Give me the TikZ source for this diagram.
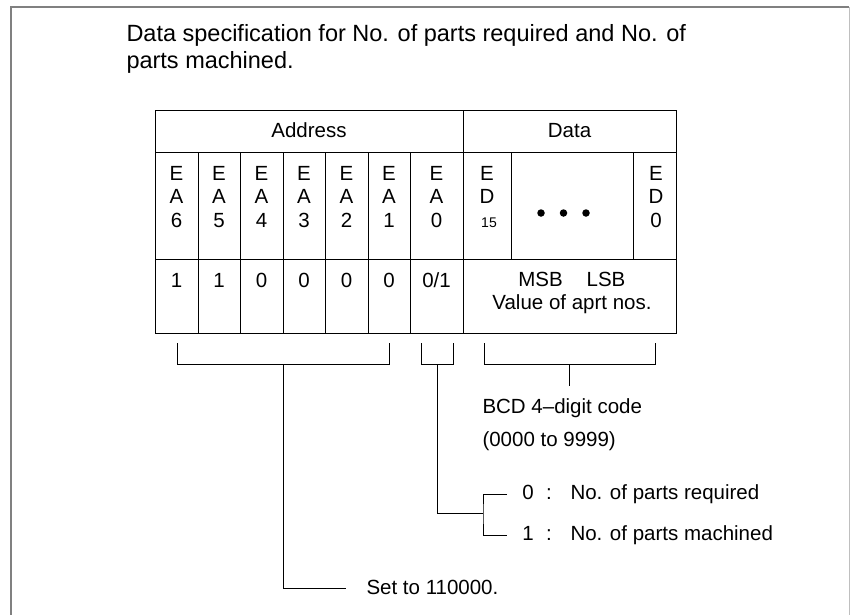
\documentclass[tikz,border=0pt]{standalone}
\usepackage{fontspec}
\setmainfont{Liberation Sans}
\begin{document}
\begin{tikzpicture}[x=1pt,y=-1pt,line width=1pt,
  txt/.style={inner sep=0pt,anchor=base,font=\fontsize{20.5}{24}\selectfont},
  ltxt/.style={inner sep=0pt,anchor=base west,font=\fontsize{20.5}{24}\selectfont},
  ttl/.style={inner sep=0pt,anchor=base west,font=\fontsize{23.5}{27}\selectfont},
  small/.style={inner sep=0pt,anchor=base,font=\fontsize{14}{16}\selectfont},
  tbl/.style={line width=1pt},
  conn/.style={line width=1pt},
  dot/.style={circle,fill,inner sep=0pt,minimum size=7.5pt}]
\useasboundingbox (0,0) rectangle (850,614);
% outer frame
\draw[line width=1.6pt,black!50] (11,630) -- (11,7) -- (849,7);
\draw[line width=0.8pt,black!25] (849,7) -- (849,630);
% title
\node[ttl] (t1) at (126,41.7) {Data specification for No. of parts required and No. of};
\node[ttl] (t2) at (126,68) {parts machined.};
% table
\draw[tbl] (155,110) rectangle (676,333);
\draw[tbl] (155,152) -- (676,152);
\draw[tbl] (155,259) -- (676,259);
\draw[tbl] (463,110) -- (463,333);
\foreach \x in {198,240,283,325,368,410} \draw[tbl] (\x,152) -- (\x,333);
\draw[tbl] (511,152) -- (511,259);
\draw[tbl] (633,152) -- (633,259);
\node[txt] (haddr) at (309,137) {Address};
\node[txt] (hdata) at (569.5,137) {Data};
\foreach \cx/\d/\v [count=\i] in {176.5/6/1,219/5/1,261.5/4/0,304/3/0,346.5/2/0,389/1/0,436.5/0/0\slash1}{
  \node[txt] (e\i) at (\cx,180) {E};
  \node[txt] (a\i) at (\cx,203) {A};
  \node[txt] (d\i) at (\cx,227) {\d};
  \node[txt] (v\i) at (\cx,287) {\v};
}
\node[txt] (de15) at (487,180) {E};
\node[txt] (dd15) at (487,203) {D};
\node[small] (dn15) at (489,227) {15};
\node[txt] (de0) at (656,180) {E};
\node[txt] (dd0) at (656,203) {D};
\node[txt] (dn0) at (656,227) {0};
\node[dot] (dot1) at (541,213) {};
\node[dot] (dot2) at (563.5,213) {};
\node[dot] (dot3) at (586,213) {};
\node[txt] (msb) at (540.5,286) {MSB};
\node[txt] (lsb) at (606,286) {LSB};
\node[txt] (val) at (572,309) {Value of aprt nos.};
% brackets
\coordinate (b1l) at (177,343); \coordinate (b1r) at (389,343);
\coordinate (b2l) at (421,343); \coordinate (b2r) at (453,343);
\coordinate (b3l) at (484,343); \coordinate (b3r) at (655,343);
\draw[conn] (b1l) -- ++(0,21) -| (b1r);
\draw[conn] (b2l) -- ++(0,21) -| (b2r);
\draw[conn] (b3l) -- ++(0,21) -| (b3r);
\coordinate (s1) at (283,364);
\coordinate (s2) at (437,364);
\coordinate (s3) at (569.5,364);
% labels
\node[ltxt] (bcd) at (482,413) {BCD 4–digit code};
\node[ltxt] (rng) at (482,446) {(0000 to 9999)};
\node[txt] (z0) at (528,499) {0};
\node[txt] (c0) at (549,499) {:};
\node[ltxt] (req) at (570,499) {No. of parts required};
\node[txt] (z1) at (528,540.5) {1};
\node[txt] (c1) at (549,540.5) {:};
\node[ltxt] (mach) at (570,540.5) {No. of parts machined};
\node[ltxt] (set) at (366,594) {Set to 110000.};
% connectors
\coordinate (s3e) at (569.5,386);
\draw[conn] (s3) -- (s3e);
\coordinate (fork) at (483,513);
\coordinate (r0) at (507,494);
\coordinate (r1) at (507,535);
\draw[conn] (s2) |- (fork);
\draw[conn] (r0) -| (fork) |- (r1);
\coordinate (se) at (346,588);
\draw[conn] (s1) |- (se);
\end{tikzpicture}
\end{document}
